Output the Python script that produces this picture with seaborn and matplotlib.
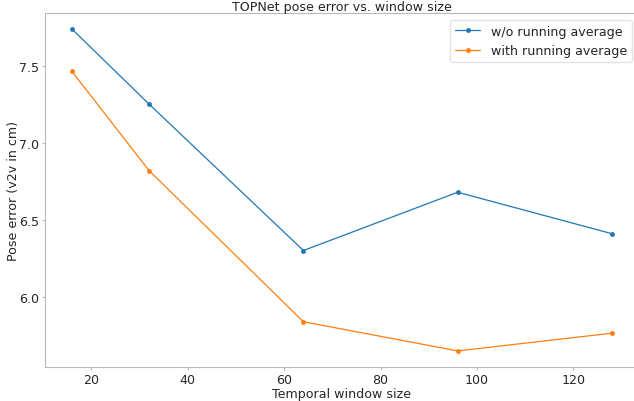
import pandas as pd
import matplotlib
matplotlib.use("Agg")
import matplotlib.pyplot as plt
import seaborn as sns

# ── data ──────────────────────────────────────────────────────────────────
window_sizes = [16, 32, 64, 96, 128]
err_no_avg = [7.738, 7.251, 6.302, 6.680, 6.411]
err_with_avg = [7.463, 6.820, 5.840, 5.651, 5.766]
series_names = ["w/o running average", "with running average"]

sns.set_style("white", {"axes.edgecolor": "#b8b8b8"})
plt.rcParams["font.family"] = ["DejaVu Sans"]
FS = 9.1

df = pd.concat(
    [
        pd.DataFrame({"window": window_sizes, "error": err_no_avg, "series": series_names[0]}),
        pd.DataFrame({"window": window_sizes, "error": err_with_avg, "series": series_names[1]}),
    ]
)

fig = plt.figure(figsize=(6.34, 4.02), dpi=100)
# right spine sits just past the image edge in the reference
ax = fig.add_axes([45 / 634, 34 / 402, 594 / 634, 354 / 402])

sns.lineplot(
    data=df,
    x="window",
    y="error",
    hue="series",
    palette=["#1f77b4", "#ff7f0e"],
    marker="o",
    markersize=3.5,
    markeredgewidth=0,
    linewidth=0.9,
    ax=ax,
)

ax.set_title("TOPNet pose error vs. window size", fontsize=FS, pad=2.5)
ax.set_xlabel("Temporal window size", fontsize=FS, labelpad=1)
ax.set_ylabel("Pose error (v2v in cm)", fontsize=FS)
ax.yaxis.set_label_coords(-0.042, 0.5)
ax.tick_params(axis="both", labelsize=FS, length=2, width=0.8, pad=2,
               color="#b8b8b8", bottom=True, left=True)
ax.set_yticks([6.0, 6.5, 7.0, 7.5])
ax.set_xticks([20, 40, 60, 80, 100, 120])

leg = ax.legend(loc="upper right", fontsize=FS, frameon=True,
                bbox_to_anchor=(0.988, 0.981), borderaxespad=0)
leg.get_frame().set_edgecolor("#dddddd")

fig.savefig("out.png", dpi=100)
